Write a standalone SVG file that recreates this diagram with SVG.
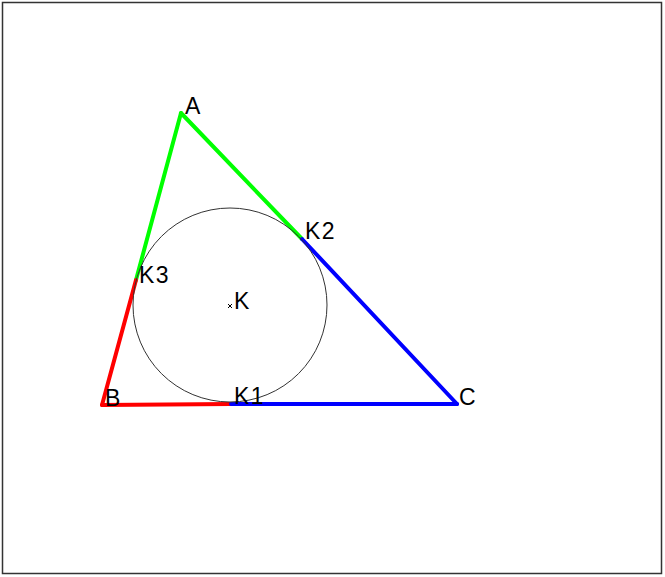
<svg xmlns="http://www.w3.org/2000/svg" width="665" height="577" viewBox="0 0 665 577">
<style>
.seg{stroke-width:4;stroke-linecap:round;fill:none}
.g{stroke:#00ff00}.r{stroke:#ff0000}.b{stroke:#0000ff}
.lbl{font-family:"Liberation Sans",Arial,sans-serif;font-size:23px;letter-spacing:1.5px;fill:#000}
.pt{stroke:#000;stroke-width:1}
</style>
<rect x="0" y="0" width="665" height="577" fill="#fff"/>
<rect x="2.5" y="2.5" width="659" height="571" fill="none" stroke="#333" stroke-width="1.5"/>
<g id="connectors">
<line class="seg g" x1="181" y1="113" x2="136" y2="280"/>
<line class="seg g" x1="181" y1="113" x2="302" y2="239"/>
<line class="seg r" x1="136" y1="280" x2="102" y2="405"/>
<line class="seg r" x1="102" y1="405" x2="231" y2="404"/>
<line class="seg b" x1="231" y1="404" x2="457" y2="404"/>
<line class="seg b" x1="302" y1="239" x2="457" y2="404"/>
</g>
<g id="circle"><circle cx="230" cy="305" r="97" fill="none" stroke="#333" stroke-width="1"/></g>
<g id="A"><text class="lbl" x="185" y="114">A</text></g>
<g id="B"><text class="lbl" x="105" y="406">B</text></g>
<g id="C"><text class="lbl" x="459" y="405">C</text></g>
<g id="K"><path class="pt" d="M228,304l4,4M232,304l-4,4"/><text class="lbl" x="234" y="309">K</text></g>
<g id="K1"><text class="lbl" x="234" y="404">K1</text></g>
<g id="K2"><text class="lbl" x="305" y="239">K2</text></g>
<g id="K3"><text class="lbl" x="139" y="283">K3</text></g>
</svg>
